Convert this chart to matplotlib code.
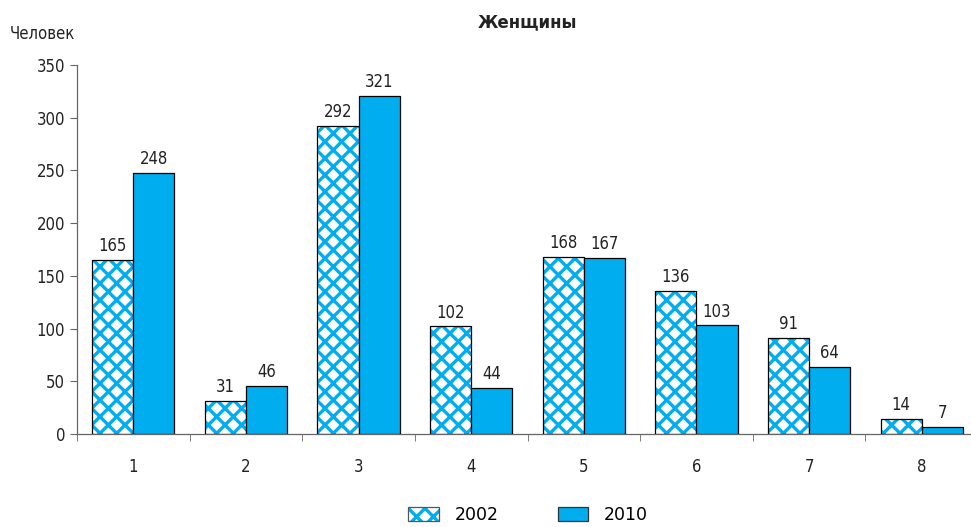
import matplotlib
matplotlib.use("Agg")
import matplotlib.pyplot as plt
import numpy as np

# data
categories = ["1", "2", "3", "4", "5", "6", "7", "8"]
vals_2002 = [165, 31, 292, 102, 168, 136, 91, 14]
vals_2010 = [248, 46, 321, 44, 167, 103, 64, 7]
series_names = ["2002", "2010"]
title = "Женщины"
ylabel = "Человек"

blue = "#00AEEF"
plt.rcParams["font.family"] = ["DejaVu Sans"]
plt.rcParams["hatch.linewidth"] = 2.4
NARROW = "condensed"

fig = plt.figure(figsize=(9.71, 5.27), dpi=100)
ax = fig.add_axes([77 / 971, 93 / 527, 901 / 971, 369 / 527])

x = np.arange(len(categories))
w = 0.365
# hatched fill takes its colour from edgecolor, so outline is drawn separately
ax.bar(x - w / 2, vals_2002, w, color="white", edgecolor=blue,
       linewidth=0, hatch="xx")
b1 = ax.bar(x - w / 2, vals_2002, w, fill=False, edgecolor="black", linewidth=0.9)
b2 = ax.bar(x + w / 2, vals_2010, w, color=blue, edgecolor="black", linewidth=0.9)

for bars, vals in ((b1, vals_2002), (b2, vals_2010)):
    for r, v in zip(bars, vals):
        ax.annotate(str(v), (r.get_x() + r.get_width() / 2, v),
                    xytext=(0, 3.5), textcoords="offset points",
                    ha="center", va="bottom", fontsize=12, color="#222",
                    fontstretch=NARROW)

ax.set_xlim(-0.5, len(categories) - 0.5)
ax.set_ylim(0, 350)
ax.set_yticks(range(0, 351, 50))
ax.set_xticks(x)
ax.set_xticklabels(categories)
ax.set_xticks(np.arange(-0.5, len(categories), 1), minor=True)
ax.tick_params(axis="x", which="major", length=0, pad=17, labelsize=12, colors="#222")
ax.tick_params(axis="x", which="minor", length=5, direction="out", color="#666")
ax.tick_params(axis="y", length=5, direction="out", labelsize=12, color="#666", labelcolor="#222")
for lbl in ax.get_xticklabels() + ax.get_yticklabels():
    lbl.set_fontstretch(NARROW)

for s in ("top", "right"):
    ax.spines[s].set_visible(False)
for s in ("left", "bottom"):
    ax.spines[s].set_color("#666")
    ax.spines[s].set_linewidth(0.9)

fig.text(527 / 971, 1 - 22 / 527, title, ha="center", va="center",
         fontsize=12, fontweight="bold", color="#222")
fig.text(10 / 971, 1 - 34 / 527, ylabel, ha="left", va="center",
         fontsize=12, color="#222", fontstretch=NARROW)

# legend proxies
h1 = plt.Rectangle((0, 0), 1, 1, facecolor="white", edgecolor=blue, hatch="xx", linewidth=0)
h1o = plt.Rectangle((0, 0), 1, 1, fill=False, edgecolor="#555", linewidth=0.9)
h2 = plt.Rectangle((0, 0), 1, 1, facecolor=blue, edgecolor="#333", linewidth=0.9)
fig.legend(handles=[(h1, h1o), h2], labels=series_names, loc="center",
           bbox_to_anchor=(528 / 971, 1 - 515 / 527), ncol=2, frameon=False,
           prop={"size": 12.5}, columnspacing=3.4,
           handlelength=1.75, handleheight=0.85, handletextpad=0.9)

fig.savefig("out.png", dpi=100)
